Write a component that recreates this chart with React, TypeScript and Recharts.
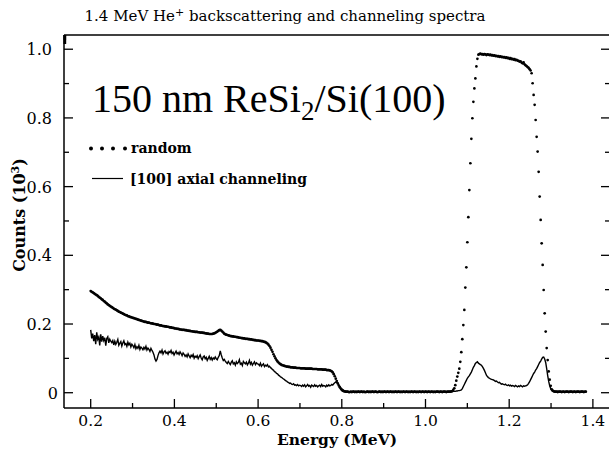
import { ComposedChart, Line, XAxis, YAxis } from 'recharts';

// detector calibration: channel 0 sits at 0.2 MeV, 2.4 keV per channel
const CHANNEL_START = 0.2;
const CHANNEL_WIDTH = 0.0024;

// random spectrum, counts per channel
const randomSubstrate = [
  296, 294, 292, 290, 288, 286, 284, 282, 279, 277,
  275, 272, 270, 267, 265, 262, 260, 257, 255, 253, 251, 249, 247,
  245, 243, 242, 240, 238, 236, 235, 233, 232, 230, 229, 227, 226, 225, 223, 222, 221,
  220, 219, 218, 217, 216, 215, 214, 213, 212, 211, 210, 209, 208, 207, 206, 206, 205,
  204, 204, 203, 202, 202, 201, 200, 200, 199, 198, 198, 197, 196, 196, 195, 194,
  194, 193, 193, 192, 192, 191, 190, 190, 189, 189, 188, 187, 187, 186, 186, 185, 184,
  184, 183, 183, 183, 182, 182, 181, 181, 180, 180, 179, 179, 178, 178, 177, 177,
  177, 176, 176, 175, 175, 175, 174, 174, 173, 173, 172, 172, 171, 171,
];
const randomBump = [171, 171, 172, 173, 174, 176, 178, 180, 182, 183, 181, 178, 175, 172, 170, 169, 168, 167, 166];
const randomShoulder = [
  165, 165, 164, 164, 163, 163, 162, 162, 161, 160, 160, 159, 159, 158,
  158, 157, 157, 157, 156, 156, 155, 155, 154, 154, 153, 153, 152, 152, 152, 151, 151,
  150, 150, 149, 148, 147, 145,
];
const randomStep = [
  143, 140, 136, 131, 125, 119, 112, 106, 100, 95, 91, 88, 85, 83, 81, 80,
  79, 78, 77, 76, 76, 75, 75, 74, 74, 74, 73, 73, 73, 72, 72, 72, 72, 71, 71, 71, 71, 71, 70, 70, 70, 70,
  70, 70, 70, 69, 69, 69, 69, 69, 68, 68, 68, 68, 68, 67, 67, 67, 67, 66, 66, 66, 65, 64,
  62, 59, 54, 48, 41, 34, 27, 21, 16, 12, 9, 7, 5, 4, 3, 3, 3, 2, 2,
];
const randomGap = [
  3, 2, 3, 3, 2, 3, 2, 3, 3, 2, 3, 3, 2, 3, 2, 2, 3, 3, 2, 3,
  2, 3, 3, 2, 3, 3, 2, 2, 3, 3, 2, 3, 2, 3, 3, 2, 3, 3, 2, 3,
  3, 2, 3, 2, 3, 3, 2, 3, 3, 2, 3, 2, 3, 3, 2, 3, 3, 2, 3, 2,
  3, 3, 2, 3, 3, 2, 3, 2, 3, 3, 2, 3, 3, 2, 3, 3, 2, 3, 3, 2,
  3, 3, 2, 3, 2, 3, 3, 3, 2, 3, 3, 2, 3, 3, 3, 2, 3, 3, 3,
];
const randomReLeadingEdge = [
  3, 4, 5, 8, 13, 22, 35, 47, 58, 70, 90, 118, 156, 197, 241, 306, 365, 438, 511, 590,
  668, 739, 799, 847, 886, 915, 950, 972, 984,
];
const randomRePlateau = [
  986, 987, 985, 986, 984, 986, 985, 983, 985, 984, 983, 984, 982,
  983, 981, 982, 980, 981, 979, 980, 978, 979, 977, 978, 976, 977,
  975, 976, 974, 975, 972, 974, 971, 972, 970, 971, 968, 969, 967,
  966, 964, 965, 961, 959, 962, 956, 953, 951, 948, 946, 942, 938,
];
const randomReTrailingEdge = [
  930, 901, 867, 838, 794, 745, 702, 643, 571, 503, 435, 372, 299, 231, 178, 130, 95, 62, 38, 20, 10, 6, 4,
];
const randomTail = [
  3, 3, 3, 2, 3, 3, 3, 2, 3, 3, 2, 3, 3, 3, 2, 3, 3, 3, 2, 3, 3, 2, 3, 3, 3, 2, 3, 3, 3, 2, 3, 3,
];

// [100] axial channeling spectrum, counts per channel
const channelingSubstrate = [
  183, 158, 172, 150, 168, 141, 176, 155, 162, 138, 170, 149, 165, 152, 160, 137, 158, 163, 145, 156, 150,
  146, 152, 139, 150, 141, 147, 155, 138, 144, 149, 136, 145, 151, 140, 143, 135, 147, 139, 144, 133, 141,
  137, 131, 140, 128, 134, 129, 138, 126, 133, 130, 125, 132, 127, 135, 124, 130, 126, 120, 129, 123,
  118, 110, 98, 92, 97, 108, 116,
  121, 116, 124, 113, 119, 122, 115, 118, 112, 120, 117, 123, 114, 118, 110, 116, 121, 113, 117, 111, 119, 114, 108, 116,
  112, 106, 110, 104, 113, 107, 102, 109, 105, 111, 100, 106, 103, 108, 99, 105, 110, 101, 96, 104, 107, 99, 103, 94, 100, 106, 97, 102, 95, 101, 98, 104,
];
const channelingSpike = [99, 96, 103, 108, 122, 110, 101, 94, 97];
const channelingShoulder = [
  92, 88, 85, 91, 86, 82, 89, 93, 84, 87, 80, 90, 85, 88, 96, 83, 86, 79, 91, 87, 84, 89, 81, 86, 94, 83, 88, 80, 85, 90, 82, 87, 84,
  83, 79, 86, 77, 81, 84, 76, 80, 78, 82, 75, 77, 73,
];
const channelingStep = [
  71, 67, 66, 61, 60, 56, 55, 51, 49, 46, 45, 42, 40,
  38, 35, 34, 31, 30, 27, 28, 25, 24, 26, 22, 23, 21, 24, 20, 22,
  21, 18, 22, 19, 23, 17, 20, 24, 19, 21, 16, 22, 20, 18, 23, 19, 21, 17, 20, 22, 18, 24, 19, 21, 20, 17, 22, 19, 23, 20, 21, 24, 22,
  26, 29, 31, 30, 27, 22,
  16, 10, 6, 4, 3, 3, 2,
];
const channelingGap = [
  2, 3, 2, 2, 3, 2, 3, 2, 2, 3, 2, 2, 3, 2, 3, 2, 2, 3, 2, 3,
  3, 2, 2, 3, 2, 2, 3, 2, 3, 2, 2, 3, 2, 2, 3, 2, 3, 3, 2, 2,
  3, 2, 2, 3, 2, 3, 2, 2, 3, 2, 2, 3, 2, 3, 2, 2, 3, 2, 2, 3,
  2, 3, 2, 2, 3, 3, 2, 2, 3, 2, 3, 2, 2, 3, 2, 3, 2, 3, 2, 2,
  3, 2, 3, 2, 2, 3, 2, 3, 3, 2, 2, 3, 2, 3, 3, 2, 3, 2, 3, 3,
  2, 3, 3,
];
const channelingRePeaks = [
  3, 3, 3, 4, 4, 4, 5, 5, 6, 6, 7, 8,
  12, 18, 24, 30, 36, 42, 46, 50, 55, 60, 67, 74, 79, 85, 88, 90,
  86, 84, 82, 80, 76, 71, 65, 58, 51, 47, 44, 42, 40, 39, 38,
  37, 35, 33, 34, 31, 29, 30, 27, 25, 26, 24, 23, 25, 22, 21, 23, 20, 22, 19, 21, 20, 18, 21, 19, 17, 20, 18, 21, 19, 17, 20, 19,
  20, 21, 23, 27, 32, 38, 44, 50, 56, 60, 66, 70, 76, 82, 88, 92, 98, 103, 104, 98, 88, 70, 50, 33, 20, 12, 7, 5,
];
const channelingTail = [
  4, 4, 3, 3, 4, 3, 3, 3, 2, 3, 3, 3, 2, 3, 3, 2, 3, 3, 3, 2, 3, 3, 3, 2, 3, 3, 2, 3, 3, 3, 2, 3, 3,
];

const xMajorTicks = [0.2, 0.4, 0.6, 0.8, 1.0, 1.2, 1.4];
const xMajorLabels = ['0.2', '0.4', '0.6', '0.8', '1.0', '1.2', '1.4'];
const xMinorTicks = [0.3, 0.5, 0.7, 0.9, 1.1, 1.3];
const yMajorTicks = [0, 0.2, 0.4, 0.6, 0.8, 1.0];
const yMajorLabels = ['0', '0.2', '0.4', '0.6', '0.8', '1.0'];
const yMinorTicks = [0.1, 0.3, 0.5, 0.7, 0.9];

const random = [
  ...randomSubstrate, ...randomBump, ...randomShoulder, ...randomStep, ...randomGap,
  ...randomReLeadingEdge, ...randomRePlateau, ...randomReTrailingEdge, ...randomTail,
];
const channeling = [
  ...channelingSubstrate, ...channelingSpike, ...channelingShoulder, ...channelingStep,
  ...channelingGap, ...channelingRePeaks, ...channelingTail,
];

const data = random.map((counts, i) => ({
  energy: CHANNEL_START + i * CHANNEL_WIDTH,
  random: counts / 1000,
  channeling: channeling[i] / 1000,
}));

const FONT = "'DejaVu Serif', serif";
const AXIS = { stroke: '#000', strokeWidth: 1.5 };
const TICK = { stroke: '#000', strokeWidth: 1.3 };

const bottomTick = (p: any) => {
  const k = xMajorTicks.indexOf(p.payload.value);
  return (
    <g>
      <line x1={p.x} x2={p.x} y1={p.y} y2={p.y - (k >= 0 ? 9 : 5)} {...TICK} />
      {k >= 0 && (
        <text x={p.x} y={p.y + 18} textAnchor="middle" fontFamily={FONT} fontSize={15.5} fill="#000">
          {xMajorLabels[k]}
        </text>
      )}
    </g>
  );
};

const topTick = (p: any) => {
  const major = xMajorTicks.includes(p.payload.value);
  return <line x1={p.x} x2={p.x} y1={p.y} y2={p.y + (major ? 9 : 5)} {...TICK} />;
};

const leftTick = (p: any) => {
  const k = yMajorTicks.indexOf(p.payload.value);
  return (
    <g>
      <line x1={p.x} x2={p.x + (k >= 0 ? 9 : 5)} y1={p.y} y2={p.y} {...TICK} />
      {k >= 0 && (
        <text x={p.x - (k === 0 ? 6 : 12)} y={p.y + 6} textAnchor="end" fontFamily={FONT} fontSize={16} fill="#000">
          {yMajorLabels[k]}
        </text>
      )}
    </g>
  );
};

const rightTick = (p: any) => {
  const major = yMajorTicks.includes(p.payload.value);
  return <line x1={p.x} x2={p.x - (major ? 8 : 4)} y1={p.y} y2={p.y} {...TICK} />;
};

const xDomain = [0.1362, 1.4385];
const yDomain = [-0.0445, 1.0414];

export default function App() {
  return (
    <div style={{ position: 'absolute', left: 0, top: 0, width: 609, height: 449, background: '#fff' }}>
      <ComposedChart width={609} height={449} data={data} margin={{ top: 34, right: -1, bottom: 40, left: 63 }}>
        <XAxis dataKey="energy" type="number" domain={xDomain} allowDataOverflow
          ticks={[...xMajorTicks, ...xMinorTicks]} interval={0} height={1}
          tickSize={0} tickMargin={0} tickLine={false} axisLine={AXIS} tick={bottomTick} />
        <XAxis xAxisId="top" orientation="top" type="number" domain={xDomain} allowDataOverflow
          ticks={[...xMajorTicks, ...xMinorTicks]} interval={0} height={1}
          tickSize={0} tickMargin={0} tickLine={false} axisLine={AXIS} tick={topTick} />
        <YAxis type="number" domain={yDomain} allowDataOverflow
          ticks={[...yMajorTicks, ...yMinorTicks]} interval={0} width={1}
          tickSize={0} tickMargin={0} tickLine={false} axisLine={AXIS} tick={leftTick} />
        <YAxis yAxisId="right" orientation="right" type="number" domain={yDomain} allowDataOverflow
          ticks={[...yMajorTicks, ...yMinorTicks]} interval={0} width={1}
          tickSize={0} tickMargin={0} tickLine={false} axisLine={false} tick={rightTick} />
        <Line dataKey="channeling" type="linear" stroke="#000" strokeWidth={1.4} dot={false} isAnimationActive={false} />
        <Line dataKey="random" type="linear" stroke="none" strokeWidth={0}
          dot={{ r: 1.35, fill: '#000', stroke: 'none' }} isAnimationActive={false} />
      </ComposedChart>
      <svg width={609} height={449} style={{ position: 'absolute', left: 0, top: 0, pointerEvents: 'none' }}>
        <text x={285} y={21} textAnchor="middle" fontFamily={FONT} fontSize={15} fill="#000">
          1.4 MeV He<tspan dy={-5} fontSize={11}>+</tspan>
          <tspan dy={5}>{' backscattering and channeling spectra'}</tspan>
        </text>
        <text x={92} y={112} fontFamily="'Liberation Serif', serif" fontSize={40} fill="#000">
          150 nm ReSi<tspan dy={8} fontSize={27}>2</tspan>
          <tspan dy={-8}>/Si(100)</tspan>
        </text>
        {[91, 102, 113, 125].map((cx) => (
          <circle key={cx} cx={cx} cy={148.5} r={2} fill="#000" />
        ))}
        <text x={131} y={152.5} fontFamily={FONT} fontSize={14} fontWeight="bold" fill="#000">random</text>
        <line x1={92} x2={123} y1={178.5} y2={178.5} stroke="#000" strokeWidth={1.2} />
        <text x={130} y={184} fontFamily={FONT} fontSize={14} fontWeight="bold" fill="#000">[100] axial channeling</text>
        <text transform="translate(25,215) rotate(-90)" textAnchor="middle" fontFamily={FONT} fontSize={16} fontWeight="bold" fill="#000">
          Counts (10<tspan dy={-6} fontSize={11}>3</tspan>
          <tspan dy={6}>)</tspan>
        </text>
        <text x={337} y={445} textAnchor="middle" fontFamily={FONT} fontSize={15.5} fontWeight="bold" fill="#000">
          Energy (MeV)
        </text>
      </svg>
    </div>
  );
}
